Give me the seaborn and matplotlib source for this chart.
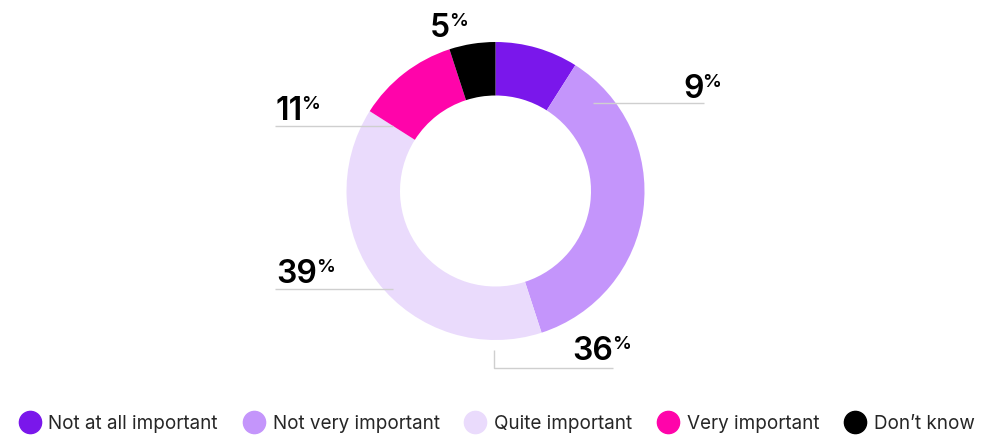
import matplotlib
matplotlib.use("Agg")
import matplotlib.pyplot as plt
from matplotlib.lines import Line2D
import seaborn as sns

# Survey answers, clockwise from 12 o'clock
categories = ["Not at all important", "Not very important", "Quite important",
              "Very important", "Don\u2019t know"]
values = [9, 36, 39, 11, 5]
colors = ["#7A17EB", "#C495FB", "#EADBFC", "#FF04AA", "#000000"]

W, H = 997, 436
sns.set_theme(style="white")
plt.rcParams["font.family"] = ["Inter", "DejaVu Sans"]

fig = plt.figure(figsize=(W / 100, H / 100), dpi=100)
ax = fig.add_axes([0, 0, 1, 1])

cx, cy, r_out, r_in = 495.5, H - 191, 149, 95.5
ax.pie(values, colors=colors, startangle=90, counterclock=False,
       radius=r_out, center=(cx, cy),
       wedgeprops=dict(width=r_out - r_in, linewidth=0))
ax.set_xlim(0, W)
ax.set_ylim(0, H)
ax.set_aspect("equal")
ax.axis("off")

# Value labels: (left x, baseline y) in pixel layout, connector polyline
label_layout = {
    "Don\u2019t know": ((430, 37), None),
    "Not very important": ((683, 98), [(593, 103), (704, 103)]),
    "Very important": ((275, 120), [(275, 126), (393, 126)]),
    "Quite important": ((276, 283), [(275, 289), (393, 289)]),
    "Not at all important": ((572, 360), [(494, 350), (494, 368), (613, 368)]),
}
# Label texts follow the order in which they are laid out around the ring
label_values = {"Don\u2019t know": values[4], "Not very important": values[0],
                "Very important": values[3], "Quite important": values[2],
                "Not at all important": values[1]}

fig.canvas.draw()
renderer = fig.canvas.get_renderer()
for key, ((lx, ly), conn) in label_layout.items():
    if conn:
        xs = [p[0] for p in conn]
        ys = [H - p[1] for p in conn]
        ax.plot(xs, ys, color="#cfcfcf", lw=1.0, solid_capstyle="butt", zorder=3)
    t = ax.text(lx, H - ly, f"{label_values[key]}", fontsize=23, fontweight=600,
                color="black", ha="left", va="baseline", zorder=4)
    bb = t.get_window_extent(renderer)
    ax.text(bb.x1 - 1, H - ly + 24, "%", fontsize=13.5, fontweight=600,
            color="black", ha="left", va="top", zorder=4)

handles = [Line2D([0], [0], marker="o", linestyle="", markersize=16,
                  markerfacecolor=c, markeredgecolor=c) for c in colors]
fig.legend(handles, categories, loc="center", bbox_to_anchor=(0.4985, 1 - 424 / H),
           ncol=5, frameon=False, fontsize=13.6, handletextpad=0.45,
           columnspacing=1.34, handlelength=1.1, borderaxespad=0)

fig.savefig("out.png", dpi=100)
